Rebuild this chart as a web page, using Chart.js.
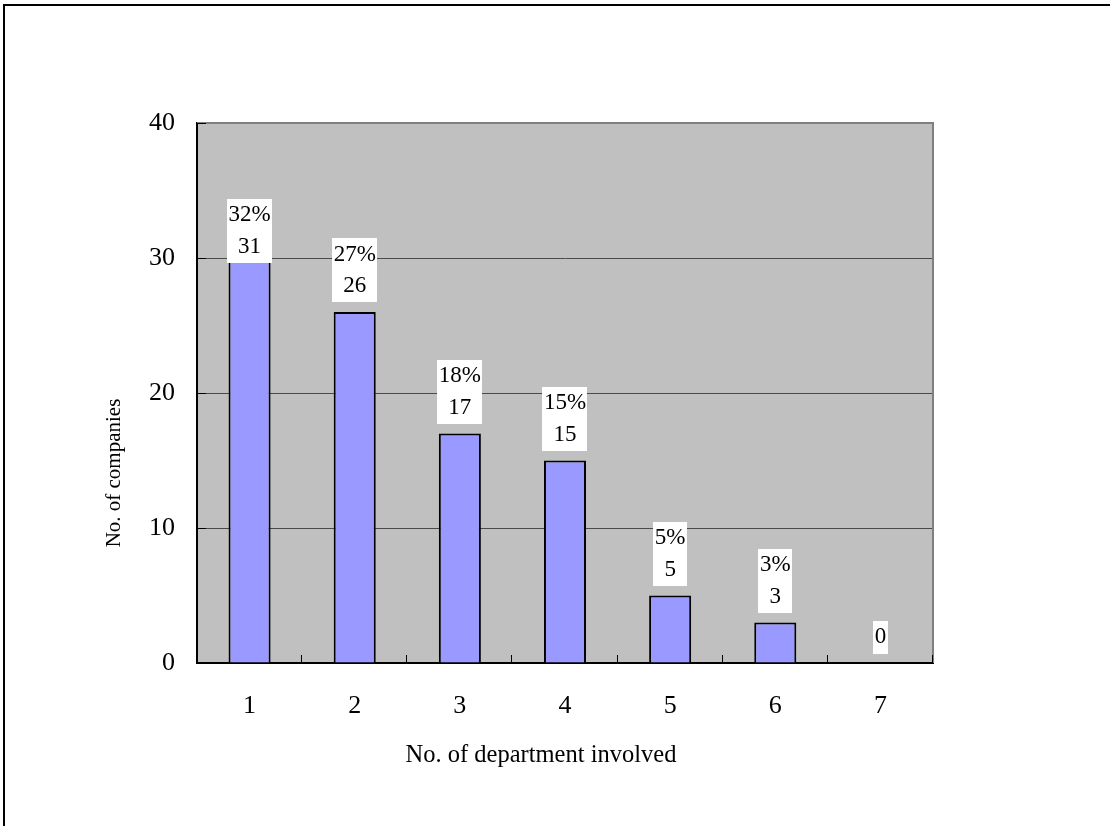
<!DOCTYPE html>
<html>
<head>
<meta charset="utf-8">
<title>No. of department involved</title>
<script src="https://cdn.jsdelivr.net/npm/chart.js@4/dist/chart.umd.min.js"></script>
<style>
  html, body { margin: 0; padding: 0; background: #ffffff; }
  #wrap { width: 1110px; height: 826px; }
</style>
</head>
<body>
<div id="wrap"><canvas id="c" width="1110" height="826"></canvas></div>
<script>
// Number of departments involved per project, and how many companies reported each
const categories = ['1', '2', '3', '4', '5', '6', '7'];
const companies = [31, 26, 17, 15, 5, 3, 0];
const shares = ['32%', '27%', '18%', '15%', '5%', '3%', ''];
const yTickValues = [0, 10, 20, 30, 40];
const xTitle = 'No. of department involved';
const yTitle = 'No. of companies';

const SERIF = '"Liberation Serif", "Times New Roman", serif';

// Gray plot panel, the outer frame and the short inward tick marks
const panelPlugin = {
  id: 'panel',
  beforeDraw(chart) {
    const { ctx, chartArea: a } = chart;
    ctx.save();
    ctx.fillStyle = '#000000';
    ctx.fillRect(3, 4, chart.width - 3, 2);
    ctx.fillRect(3, 4, 2, chart.height - 4);
    ctx.fillStyle = '#c0c0c0';
    ctx.fillRect(a.left, a.top, a.right - a.left, a.bottom - a.top);
    ctx.restore();
  },
  afterDraw(chart) {
    const { ctx, chartArea: a, scales } = chart;
    ctx.save();
    // top and right edges of the panel
    ctx.strokeStyle = '#808080';
    ctx.lineWidth = 2;
    ctx.beginPath();
    ctx.moveTo(a.left, a.top);
    ctx.lineTo(a.right, a.top);
    ctx.lineTo(a.right, a.bottom);
    ctx.stroke();
    // inward ticks
    ctx.strokeStyle = '#000000';
    ctx.lineWidth = 1;
    ctx.beginPath();
    yTickValues.forEach(v => {
      const y = Math.round(scales.y.getPixelForValue(v)) + 0.5;
      ctx.moveTo(a.left, y);
      ctx.lineTo(a.left + 9, y);
    });
    const step = (a.right - a.left) / categories.length;
    for (let i = 1; i <= categories.length; i++) {
      const x = Math.round(a.left + step * i) - 0.5;
      ctx.moveTo(x, a.bottom);
      ctx.lineTo(x, a.bottom - 8);
    }
    ctx.stroke();
    // axis titles
    ctx.fillStyle = '#000000';
    ctx.textAlign = 'center';
    ctx.textBaseline = 'middle';
    ctx.font = '24.5px ' + SERIF;
    ctx.fillText(xTitle, 541, 756);
    ctx.translate(114, 473);
    ctx.rotate(-Math.PI / 2);
    ctx.font = '21px ' + SERIF;
    ctx.fillText(yTitle, 0, 0);
    ctx.restore();
  }
};

// White boxed labels above each bar: share on the first line, count below
const valueLabelPlugin = {
  id: 'valueLabels',
  afterDatasetsDraw(chart, args, opts) {
    const { ctx } = chart;
    const meta = chart.getDatasetMeta(0);
    const lineH = 31.5;
    ctx.save();
    ctx.font = '23px ' + SERIF;
    ctx.textAlign = 'center';
    ctx.textBaseline = 'middle';
    meta.data.forEach((bar, i) => {
      const lines = shares[i] ? [shares[i], String(companies[i])] : [String(companies[i])];
      const w = Math.max(...lines.map(t => ctx.measureText(t).width)) + 3;
      const h = lines.length * lineH + 1;
      const bottom = bar.y - 10 + (opts.nudge[i] || 0);
      const top = bottom - h;
      ctx.fillStyle = '#ffffff';
      ctx.fillRect(Math.round(bar.x - w / 2), Math.round(top), Math.round(w), Math.round(h));
      ctx.fillStyle = '#000000';
      lines.forEach((t, k) => ctx.fillText(t, bar.x, top + lineH * (k + 0.5) + 1));
    });
    ctx.restore();
  }
};

new Chart(document.getElementById('c'), {
  type: 'bar',
  data: {
    labels: categories,
    datasets: [{
      data: companies,
      backgroundColor: '#9999ff',
      borderColor: '#000000',
      borderWidth: 2,
      categoryPercentage: 1,
      barPercentage: 0.4
    }]
  },
  options: {
    responsive: false,
    animation: false,
    devicePixelRatio: 1,
    layout: { padding: { left: 0, top: 123, right: 177, bottom: 0 } },
    plugins: {
      legend: { display: false },
      tooltip: { enabled: false },
      valueLabels: { nudge: [28, 0, 0, 0, 0, 0, 0] }
    },
    scales: {
      x: {
        type: 'category',
        offset: true,
        grid: { display: false },
        border: { display: true, color: '#000000', width: 2 },
        ticks: {
          color: '#000000',
          font: { family: SERIF, size: 26 },
          padding: 20,
          maxRotation: 0
        },
        afterFit(scale) { scale.height = 163; }
      },
      y: {
        min: 0,
        max: 40,
        ticks: {
          stepSize: 10,
          color: '#000000',
          font: { family: SERIF, size: 26 },
          padding: 22
        },
        grid: {
          drawTicks: false,
          lineWidth: 1,
          color: c => (c.tick.value === 0 || c.tick.value === 40) ? 'rgba(0,0,0,0)' : '#4a4a4a'
        },
        border: { display: true, color: '#000000', width: 2 },
        afterFit(scale) { scale.width = 197; }
      }
    }
  },
  plugins: [panelPlugin, valueLabelPlugin]
});
</script>
</body>
</html>
